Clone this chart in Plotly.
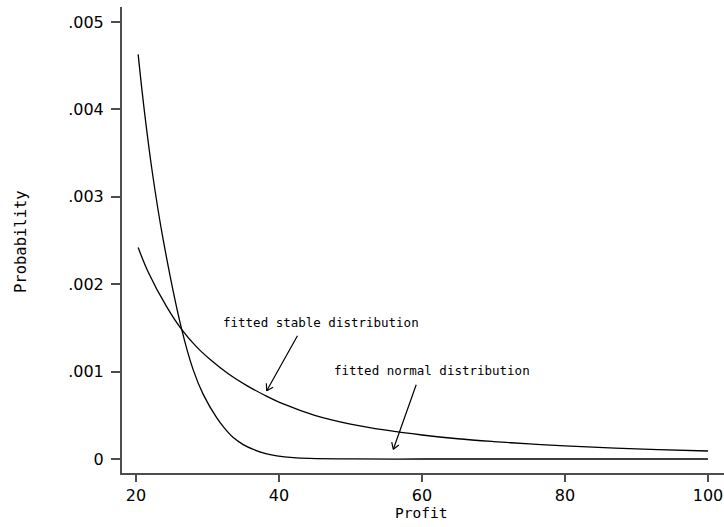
import math
import plotly.graph_objects as go

# ---- data ----
normal_x = [20.3, 21.1, 22.3, 23.8, 26.4, 28.0, 29.4, 31.3, 32.4, 33.6, 35.0, 36.4, 38.0, 39.7, 42.0,
            44.3, 50, 60, 70, 80, 90, 100]
normal_y = [0.00463, 0.00403, 0.00327, 0.00251, 0.00148, 0.00102, 0.00074, 0.00047, 0.00035, 0.000245,
            0.000165, 0.00011, 0.000065, 0.000037, 0.000016, 0.000007, 0.0000008, 0.0, 0.0, 0.0, 0.0, 0.0]

stable_x = [20.3, 21.7, 24.3, 26.4, 28.5, 30.5, 33.0, 35.5, 38.0, 40.6, 45.0, 50, 55, 60, 65, 70, 75, 80, 87, 93, 100]
stable_y = [0.00242, 0.00214, 0.00174, 0.00148, 0.00128, 0.00113, 0.00097, 0.00084, 0.00073, 0.00063,
            0.00050, 0.00040, 0.00033, 0.000275, 0.000232, 0.000200, 0.000173, 0.000151, 0.000125,
            0.000107, 0.000092]

x_ticks = [20, 40, 60, 80, 100]
y_ticks = [0, 0.001, 0.002, 0.003, 0.004, 0.005]
y_tick_text = ["0", ".001", ".002", ".003", ".004", ".005"]

labels = ["fitted stable distribution", "fitted normal distribution"]
label_pos = [(45.87, 0.001561), (61.36, 0.001008)]
arrow_tips = [(38.28, 0.000782), (55.99, 0.000111)]
arrow_tails_px = [(31.6, -56.4), (23.4, -66.0)]

MONO = "DejaVu Sans Mono"
SANS = "DejaVu Sans"
INK = "#000000"
AXIS = "#4d4d4d"

fig = go.Figure()
fig.add_trace(go.Scatter(x=normal_x, y=normal_y, mode="lines",
                         line=dict(color=INK, width=1.3, shape="spline", smoothing=1.0),
                         showlegend=False, hoverinfo="skip"))
fig.add_trace(go.Scatter(x=stable_x, y=stable_y, mode="lines",
                         line=dict(color=INK, width=1.3, shape="spline", smoothing=1.0),
                         showlegend=False, hoverinfo="skip"))

annotations = []
for txt, (tx, ty) in zip(labels, label_pos):
    annotations.append(dict(x=tx, y=ty, xref="x", yref="y", text=txt, showarrow=False,
                            font=dict(family=MONO, size=12.5, color=INK),
                            xanchor="center", yanchor="middle"))

head_len = 9
head_ang = math.radians(32)
for (tx, ty), (ax, ay) in zip(arrow_tips, arrow_tails_px):
    annotations.append(dict(x=tx, y=ty, xref="x", yref="y", ax=ax, ay=ay, text="",
                            showarrow=True, arrowhead=0, arrowwidth=1.2, arrowcolor=INK,
                            standoff=0, startstandoff=0))
    base = math.atan2(ay, ax)
    for s in (-1, 1):
        a = base + s * head_ang
        annotations.append(dict(x=tx, y=ty, xref="x", yref="y",
                                ax=head_len * math.cos(a), ay=head_len * math.sin(a), text="",
                                showarrow=True, arrowhead=0, arrowwidth=1.2, arrowcolor=INK,
                                standoff=0, startstandoff=0))

# axis titles (pixel positions converted to paper coords below)
annotations.append(dict(x=421, y=513, xref="paper", yref="paper", text="Profit", showarrow=False,
                        font=dict(family=MONO, size=14.5, color=INK)))
annotations.append(dict(x=21, y=242, xref="paper", yref="paper", text="Probability", showarrow=False,
                        textangle=-90, font=dict(family=MONO, size=15.5, color=INK)))

W, H = 724, 527
L, R, T, B = 122, 0, 7, 54
pw, ph = W - L - R, H - T - B
for a in annotations[-2:]:
    px, py = a["x"], a["y"]
    a["x"] = (px - L) / pw
    a["y"] = (H - B - py) / ph
    a["xanchor"] = "center"
    a["yanchor"] = "middle"

fig.update_layout(
    width=W, height=H,
    margin=dict(l=L, r=R, t=T, b=B, pad=0),
    paper_bgcolor="white", plot_bgcolor="white",
    annotations=annotations,
    xaxis=dict(range=[18.04, 102.24], tickvals=x_ticks, ticktext=[str(v) for v in x_ticks],
               showgrid=False, zeroline=False, showline=True, linecolor=AXIS, linewidth=2,
               ticks="outside", ticklen=7, tickwidth=1.5, tickcolor=AXIS,
               tickfont=dict(family=SANS, size=16, color=INK)),
    yaxis=dict(range=[-0.000160, 0.005172], tickvals=y_ticks, ticktext=y_tick_text,
               showgrid=False, zeroline=False, showline=True, linecolor=AXIS, linewidth=2,
               ticks="outside", ticklen=9, tickwidth=1.5, tickcolor=AXIS,
               ticklabelstandoff=4,
               tickfont=dict(family=SANS, size=16, color=INK)),
)

fig.write_html("out.html")
